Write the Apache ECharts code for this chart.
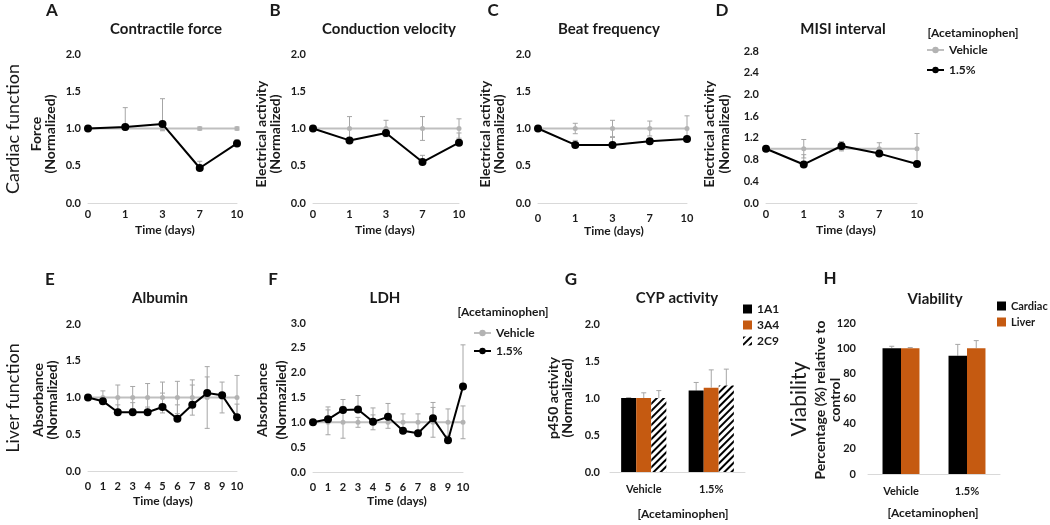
<!DOCTYPE html>
<html><head><meta charset="utf-8">
<script src="https://cdn.jsdelivr.net/npm/echarts@6/dist/echarts.min.js"></script>
<style>html,body{margin:0;padding:0;background:#fff}#c{width:1050px;height:525px}</style>
</head><body><div id="c"></div><script>
// ---------- data ----------
const daysFew = ['0','1','3','7','10'];
const daysAll = ['0','1','2','3','4','5','6','7','8','9','10'];

// A Contractile force
const forceVehicle = [1, 1, 1, 1, 1];
const forceVehicleErr = [0, 0.02, 0.03, 0.02, 0.02];
const forceDrug = [1.0, 1.02, 1.06, 0.47, 0.80];
const forceDrugErr = [0, 0.26, 0.34, 0.09, 0.05];
// B Conduction velocity
const condVehicle = [1, 1, 1, 1, 1];
const condVehicleErr = [0, 0.16, 0.11, 0.16, 0.13];
const condDrug = [1.0, 0.84, 0.94, 0.55, 0.81];
const condDrugErr = [0, 0, 0.04, 0.09, 0.13];
// C Beat frequency
const beatVehicle = [1, 1, 1, 1, 1];
const beatVehicleErr = [0, 0.07, 0.11, 0.10, 0.17];
const beatDrug = [1.0, 0.78, 0.78, 0.83, 0.86];
const beatDrugErr = [0, 0.06, 0.10, 0, 0];
// D MISI interval
const misiVehicle = [1, 1, 1, 1, 1];
const misiVehicleErr = [0, 0.17, 0.04, 0.11, 0.28];
const misiDrug = [1.0, 0.71, 1.05, 0.91, 0.72];
const misiDrugErr = [0, 0.18, 0.08, 0.03, 0];
// E Albumin
const albVehicle = [1, 1, 1, 1, 1, 1, 1, 1, 1, 1, 1];
const albVehicleErr = [0, 0.09, 0.17, 0.15, 0.19, 0.21, 0.22, 0.24, 0.42, 0.21, 0.30];
const albDrug = [1.0, 0.95, 0.80, 0.80, 0.80, 0.87, 0.71, 0.90, 1.06, 1.03, 0.73];
const albDrugErr = [0, 0, 0.10, 0.13, 0.07, 0.19, 0.19, 0.27, 0.22, 0, 0.18];
// F LDH
const ldhVehicle = [1, 1, 1, 1, 1, 1, 1, 1, 1, 1, 1];
const ldhVehicleErr = [0, 0.25, 0.32, 0.10, 0.15, 0.12, 0.17, 0.17, 0.30, 0.27, 0.33];
const ldhDrug = [1.0, 1.06, 1.25, 1.26, 1.01, 1.11, 0.83, 0.78, 1.08, 0.64, 1.72];
const ldhDrugErr = [0, 0.25, 0.21, 0.28, 0.28, 0.27, 0, 0, 0.32, 0, 0.84];
// G CYP activity
const groups = ['Vehicle', '1.5%'];
const cyp1A1 = [1.0, 1.10];
const cyp1A1Err = [0.005, 0.11];
const cyp3A4 = [1.0, 1.14];
const cyp3A4Err = [0.07, 0.24];
const cyp2C9 = [1.0, 1.17];
const cyp2C9Err = [0.10, 0.22];
// H Viability
const viaCardiac = [100, 94];
const viaCardiacErr = [1.5, 9];
const viaLiver = [100, 100];
const viaLiverErr = [0.5, 6];

// ---------- styling ----------
const FONT = 'Lato, "Open Sans", sans-serif';
const TXT = '#1a1a1a';
const ERR = '#a6a6a6';
const ORANGE = '#c55a11';

const grids = [
  {left: 88,  top: 54,  width: 149, height: 149},
  {left: 313, top: 54,  width: 146, height: 149},
  {left: 538, top: 54,  width: 149, height: 149},
  {left: 766, top: 51,  width: 151, height: 152},
  {left: 88,  top: 324, width: 149, height: 147},
  {left: 313, top: 323, width: 150, height: 149},
  {left: 610, top: 324, width: 135, height: 148},
  {left: 868, top: 323, width: 132, height: 151}
];

const xAxes = [], yAxes = [], series = [];

function mkX(gi, cats, boundary, margin) {
  xAxes.push({type: 'category', gridIndex: gi, data: cats, boundaryGap: boundary,
    axisLine: {lineStyle: {color: '#d9d9d9', width: 1}}, axisTick: {show: false},
    axisLabel: {color: TXT, fontFamily: FONT, fontWeight: 'bold', fontSize: 11, margin: margin, interval: 0}});
}
function mkY(gi, min, max, interval, digits, margin) {
  yAxes.push({type: 'value', gridIndex: gi, min: min, max: max, interval: interval,
    splitLine: {show: false}, axisLine: {show: false}, axisTick: {show: false},
    axisLabel: {color: TXT, fontFamily: FONT, fontWeight: 'bold', fontSize: 11, margin: margin,
      formatter: v => v.toFixed(digits)}});
}

function errorSeries(gi, vals, errs, both, nBars, k, gapFrac) {
  return {type: 'custom', name: 'err', xAxisIndex: gi, yAxisIndex: gi, z: 1, silent: true,
    data: vals.map((v, i) => [i, both ? v - errs[i] : v, v + errs[i], errs[i]]),
    encode: {x: 0, y: [1, 2]},
    renderItem(params, api) {
      if (!(api.value(3) > 0)) return null;
      const i = api.value(0);
      let off = 0;
      if (nBars) {
        const cw = api.size([1, 0])[0];
        const bw = cw * (1 - gapFrac) / nBars;
        off = (k - (nBars - 1) / 2) * bw;
      }
      const lo = api.coord([i, api.value(1)]), hi = api.coord([i, api.value(2)]);
      const x = lo[0] + off, cap = 2.5;
      const st = {stroke: ERR, lineWidth: 1};
      const ch = [
        {type: 'line', shape: {x1: x, y1: lo[1], x2: x, y2: hi[1]}, style: st},
        {type: 'line', shape: {x1: x - cap, y1: hi[1], x2: x + cap, y2: hi[1]}, style: st}
      ];
      if (both) ch.push({type: 'line', shape: {x1: x - cap, y1: lo[1], x2: x + cap, y2: lo[1]}, style: st});
      return {type: 'group', children: ch};
    }};
}

function linePanel(gi, cats, yMax, yInt, veh, vehErr, drug, drugErr, xMargin) {
  mkX(gi, cats, false, xMargin);
  mkY(gi, 0, yMax, yInt, 1, 7);
  series.push(errorSeries(gi, veh, vehErr, true));
  series.push(errorSeries(gi, drug, drugErr, false));
  series.push({type: 'line', name: 'Vehicle', xAxisIndex: gi, yAxisIndex: gi, data: veh, z: 2,
    symbol: 'circle', symbolSize: 5, lineStyle: {color: '#bfbfbf', width: 2},
    itemStyle: {color: '#b3b3b3'}});
  series.push({type: 'line', name: '1.5%', xAxisIndex: gi, yAxisIndex: gi, data: drug, z: 3,
    symbol: 'circle', symbolSize: 8, lineStyle: {color: '#000', width: 2},
    itemStyle: {color: '#000'}});
}

linePanel(0, daysFew, 2, 0.5, forceVehicle, forceVehicleErr, forceDrug, forceDrugErr, 6);
linePanel(1, daysFew, 2, 0.5, condVehicle, condVehicleErr, condDrug, condDrugErr, 6);
linePanel(2, daysFew, 2, 0.5, beatVehicle, beatVehicleErr, beatDrug, beatDrugErr, 10);
linePanel(3, daysFew, 2.8, 0.4, misiVehicle, misiVehicleErr, misiDrug, misiDrugErr, 6);
linePanel(4, daysAll, 2, 0.5, albVehicle, albVehicleErr, albDrug, albDrugErr, 10);
linePanel(5, daysAll, 3, 0.5, ldhVehicle, ldhVehicleErr, ldhDrug, ldhDrugErr, 10);

// G bars
const gGap = 0.33;
mkX(6, groups, true, 12);
mkY(6, 0, 2, 0.5, 1, 10);
const hatch = {symbol: 'rect', symbolSize: 1, color: '#000', backgroundColor: '#fff',
  dashArrayX: [1, 0], dashArrayY: [2, 3], rotation: -Math.PI / 4};
[[cyp1A1, cyp1A1Err, '1A1', {color: '#000'}],
 [cyp3A4, cyp3A4Err, '3A4', {color: ORANGE}],
 [cyp2C9, cyp2C9Err, '2C9', {color: '#fff', decal: hatch}]].forEach((d, k) => {
  series.push({type: 'bar', name: d[2], xAxisIndex: 6, yAxisIndex: 6, data: d[0],
    barGap: '0%', barCategoryGap: (gGap * 100) + '%', itemStyle: d[3], z: 2});
  series.push(errorSeries(6, d[0], d[1], false, 3, k, gGap));
});

// H bars
const hGap = 0.44;
mkX(7, groups, true, 12);
mkY(7, 0, 120, 20, 0, 12);
[[viaCardiac, viaCardiacErr, 'Cardiac', '#000'],
 [viaLiver, viaLiverErr, 'Liver', ORANGE]].forEach((d, k) => {
  series.push({type: 'bar', name: d[2], xAxisIndex: 7, yAxisIndex: 7, data: d[0],
    barGap: '0%', barCategoryGap: (hGap * 100) + '%', itemStyle: {color: d[3]}, z: 2});
  series.push(errorSeries(7, d[0], d[1], false, 2, k, hGap));
});

// ---------- texts ----------
const graphics = [];
function T(x, y, text, size, weight, rot, lh) {
  graphics.push({type: 'text', x: x, y: y, rotation: rot ? Math.PI / 2 : 0, silent: true,
    style: {text: text, fill: TXT, font: (weight || 'bold') + ' ' + size + 'px ' + FONT,
      fontFamily: FONT, fontSize: size, fontWeight: weight || 'bold',
      align: 'center', verticalAlign: 'middle', textAlign: 'center', textVerticalAlign: 'middle',
      lineHeight: lh || size + 2}});
}
// panel letters
T(52, 11, 'A', 17); T(275, 11, 'B', 17); T(493, 11, 'C', 17); T(722, 11, 'D', 17);
T(50, 280, 'E', 17); T(273, 280, 'F', 17); T(571, 280, 'G', 17); T(830, 279, 'H', 17);
// titles
T(166, 29, 'Contractile force', 15); T(389, 29, 'Conduction velocity', 15);
T(609, 29, 'Beat frequency', 15); T(843, 29, 'MISI interval', 15);
T(160, 298, 'Albumin', 15); T(385, 298, 'LDH', 15);
T(677, 298, 'CYP activity', 15); T(935, 299, 'Viability', 15);
// row labels
T(13, 129, 'Cardiac function', 18, 'normal', true);
T(13, 398, 'Liver function', 18, 'normal', true);
T(799, 399, 'Viability', 21, 'normal', true);
// y names
T(43, 134, 'Force\n(Normalized)', 14, 'bold', true, 14);
T(268, 134, 'Electrical activity\n(Normalized)', 14, 'bold', true, 14);
T(492, 134, 'Electrical activity\n(Normalized)', 14, 'bold', true, 14);
T(717, 134, 'Electrical activity\n(Normalized)', 14, 'bold', true, 15);
T(45, 400, 'Absorbance\n(Normalized)', 14, 'bold', true, 14);
T(272, 400, 'Absorbance\n(Normaziled)', 14, 'bold', true, 19);
T(560, 398, 'p450 activity\n(Normalized)', 14, 'bold', true, 14);
T(828, 400, 'Percentage (%) relative to\ncontrol', 14, 'bold', true, 15);
// x names
T(165, 230, 'Time (days)', 12); T(385, 230, 'Time (days)', 12);
T(614, 231, 'Time (days)', 12); T(846, 230, 'Time (days)', 12);
T(163, 501, 'Time (days)', 12); T(397, 501, 'Time (days)', 12);
T(683, 514, '[Acetaminophen]', 12); T(933, 513, '[Acetaminophen]', 12);
// legend headers
T(973, 33, '[Acetaminophen]', 12); T(503, 312, '[Acetaminophen]', 12);

const legTxt = {color: TXT, fontFamily: FONT, fontWeight: 'bold', fontSize: 12, lineHeight: 14};
const option = {
  animation: false,
  backgroundColor: '#fff',
  grid: grids,
  xAxis: xAxes,
  yAxis: yAxes,
  series: series,
  graphic: graphics,
  legend: [
    {data: ['Vehicle', '1.5%'], orient: 'vertical', left: 926, top: 43, padding: 0, itemWidth: 17, itemHeight: 8,
      itemGap: 6, selectedMode: false, textStyle: legTxt},
    {data: ['Vehicle', '1.5%'], orient: 'vertical', left: 473, top: 326, padding: 0, itemWidth: 17, itemHeight: 8,
      itemGap: 4, selectedMode: false, textStyle: legTxt},
    {data: ['1A1', '3A4', '2C9'], orient: 'vertical', left: 743, top: 302, padding: 0, itemWidth: 9, itemHeight: 9,
      itemGap: 2, icon: 'rect', selectedMode: false, textStyle: legTxt},
    {data: ['Cardiac', 'Liver'], orient: 'vertical', left: 997, top: 299, padding: 0, itemWidth: 9, itemHeight: 9,
      itemGap: 2, icon: 'rect', selectedMode: false, textStyle: Object.assign({}, legTxt, {fontSize: 11})}
  ]
};
const chart = echarts.init(document.getElementById('c'));
chart.setOption(option);
</script></body></html>
